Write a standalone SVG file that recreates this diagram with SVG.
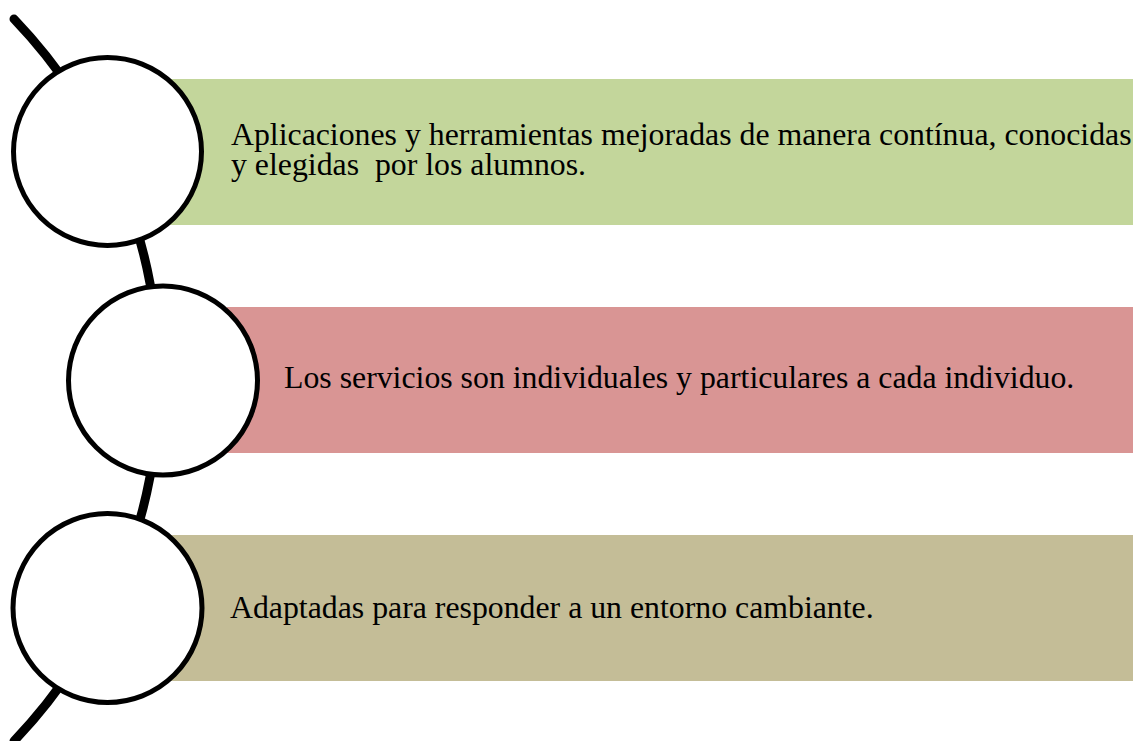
<svg xmlns="http://www.w3.org/2000/svg" width="1133" height="741" viewBox="0 0 1133 741">
<style>
.node-circle{fill:#ffffff;stroke:#000000;stroke-width:5}
.label{font-family:"Liberation Serif","Times New Roman",serif;font-size:31.8px;fill:#000000}
.conn{fill:none;stroke:#000000;stroke-width:9;stroke-linecap:round}
</style>
<rect width="1133" height="741" fill="#ffffff"/>
<g id="connectors">
<path class="conn" d="M 14 19 A 522 522 0 0 1 14 741"/>
</g>
<g id="node1">
<rect x="170" y="79" width="963" height="146" fill="#C3D69B"/>
<circle class="node-circle" cx="107.5" cy="151.5" r="94"/>
<text class="label" x="231" y="145">Aplicaciones y herramientas mejoradas de manera contínua, conocidas</text>
<text class="label" x="231" y="175" xml:space="preserve">y elegidas  por los alumnos.</text>
</g>
<g id="node2">
<rect x="227" y="307" width="906" height="146" fill="#D99594"/>
<circle class="node-circle" cx="163" cy="380.5" r="94.5"/>
<text class="label" x="284" y="388">Los servicios son individuales y particulares a cada individuo.</text>
</g>
<g id="node3">
<rect x="170" y="535" width="963" height="146" fill="#C4BD97"/>
<circle class="node-circle" cx="107.5" cy="608" r="94.5"/>
<text class="label" x="230" y="618">Adaptadas para responder a un entorno cambiante.</text>
</g>
</svg>
